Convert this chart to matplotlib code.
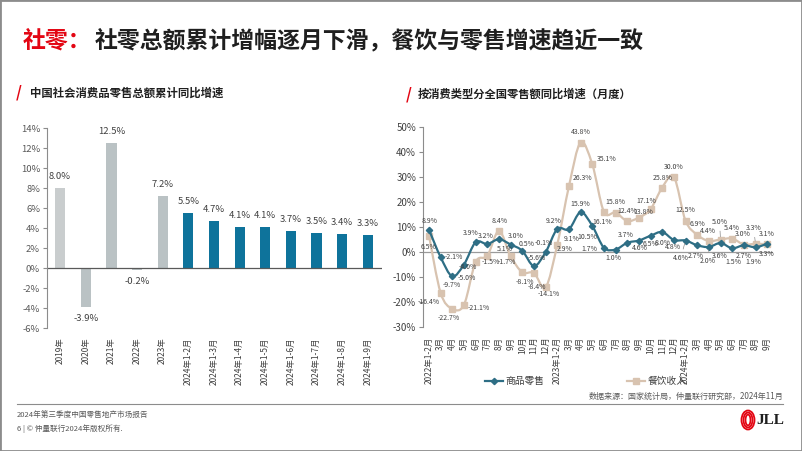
import matplotlib
matplotlib.use("Agg")
import matplotlib.pyplot as plt
from matplotlib.path import Path
from matplotlib.patches import PathPatch, Rectangle, Ellipse
from matplotlib.lines import Line2D

plt.rcParams['font.family'] = ['Noto Sans CJK SC', 'DejaVu Sans']

# ---- data: left chart (cumulative YoY growth of total retail sales) ----
annual_labels = ['2019年', '2020年', '2021年', '2022年', '2023年',
                 '2024年1-2月', '2024年1-3月', '2024年1-4月', '2024年1-5月',
                 '2024年1-6月', '2024年1-7月', '2024年1-8月', '2024年1-9月']
annual_values = [8.0, -3.9, 12.5, -0.2, 7.2, 5.5, 4.7, 4.1, 4.1, 3.7, 3.5, 3.4, 3.3]

# ---- data: right chart (monthly YoY by consumption type) ----
month_labels = ['2022年1-2月', '3月', '4月', '5月', '6月', '7月', '8月', '9月', '10月', '11月', '12月',
                '2023年1-2月', '3月', '4月', '5月', '6月', '7月', '8月', '9月', '10月', '11月', '12月',
                '2024年1-2月', '3月', '4月', '5月', '6月', '7月', '8月', '9月']
goods = [8.9, -2.1, -9.7, -5.0, 3.9, 3.2, 5.1, 3.0, 0.5, -5.6, -0.1,
         9.2, 9.1, 15.9, 10.5, 1.7, 1.0, 3.7, 4.6, 6.5, 8.0, 4.8,
         4.6, 2.7, 2.0, 3.6, 1.5, 2.7, 1.9, 3.3]
catering = [6.5, -16.4, -22.7, -21.1, -4.0, -1.5, 8.4, -1.7, -8.1, -8.4, -14.1,
            2.9, 26.3, 43.8, 35.1, 16.1, 15.8, 12.4, 13.8, 17.1, 25.8, 30.0,
            12.5, 6.9, 4.4, 5.0, 5.4, 3.0, 3.3, 3.1]

# label placement (pixel offsets from each point)
goods_off = [(1, 9), (13, 0), (-1, -9), (3, -13), (-5, 9), (-2, 8), (6, -10), (5, 9),
             (4, 7), (3, 8), (-2, 9), (-4, 8), (3, -10), (0, 8), (-5, -11), (-15, -1),
             (-2, -8), (-1, 8), (1, -7), (0, -8), (0, -11), (-1, -7), (-5, -18), (-1, -11),
             (-1, -14), (-1, -13), (1, -14), (0, -11), (-2, -15), (0, -10)]
catering_off = [(0, -11), (-12, -9), (-4, -9), (15, -3), (-8, -5), (4, -6), (1, 10), (-4, -6),
                (3, -10), (3, -14), (3, -7), (7, -4), (14, 8), (0, 10), (14, 5), (-2, -10),
                (0, 10), (0, 10), (4, 6), (-4, 8), (0, 10), (0, 10), (0, 11), (0, 11),
                (-1, 10), (-1, 18), (0, 10), (-1, 10), (-2, 16), (0, 10)]
leader_goods = [22, 24]
leader_catering = [25, 28]

RED = '#E30613'
BLUE_BAR = '#0E739B'
GRAY_BAR = '#BAC2C4'
GRAY_BAR_LIGHT = '#C9CDCE'
BLUE_LINE = '#2E6E85'
TAN = '#D8C3B0'
TXT = '#404040'
AX = '#8C8C8C'

fig = plt.figure(figsize=(8.02, 4.51), dpi=100)

# title
fig.text(23 / 802, 1 - 41 / 451, '社零：', color=RED, fontsize=16.5, fontweight='bold', va='center')
fig.text(95 / 802, 1 - 41 / 451, '社零总额累计增幅逐月下滑，餐饮与零售增速趋近一致',
         color='#1F1F1F', fontsize=16.5, fontweight='bold', va='center')

# section headers
fig.text(16 / 802, 1 - 93 / 451, '/', color=RED, fontsize=11, fontweight='bold', va='center')
fig.text(30 / 802, 1 - 93 / 451, '中国社会消费品零售总额累计同比增速', color='#1F1F1F',
         fontsize=8.2, fontweight='bold', va='center')
fig.text(406 / 802, 1 - 94 / 451, '/', color=RED, fontsize=11, fontweight='bold', va='center')
fig.text(418 / 802, 1 - 94 / 451, '按消费类型分全国零售额同比增速（月度）', color='#1F1F1F',
         fontsize=8.1, fontweight='bold', va='center')

# ---- left chart ----
ax1 = fig.add_axes([47 / 802, 1 - 328 / 451, 335 / 802, 200 / 451])
bar_colors = [GRAY_BAR_LIGHT] + [GRAY_BAR] * 4 + [BLUE_BAR] * 8
x1 = list(range(len(annual_values)))
ax1.bar(x1, annual_values, width=0.4, color=bar_colors)
for xi, v in zip(x1, annual_values):
    if v >= 0:
        ax1.annotate(f'{v:.1f}%', (xi, v), xytext=(0, 5), textcoords='offset points',
                     ha='center', va='bottom', fontsize=6.8, color=TXT)
    else:
        ax1.annotate(f'{v:.1f}%', (xi, v), xytext=(0, -5), textcoords='offset points',
                     ha='center', va='top', fontsize=6.8, color=TXT)
ax1.axhline(0, color='#595959', lw=0.9)
ax1.set_xlim(-0.51, 12.55)
ax1.set_ylim(-6, 14)
ax1.set_yticks(range(-6, 15, 2))
ax1.set_yticklabels([f'{t}%' for t in range(-6, 15, 2)])
ax1.set_xticks(x1)
ax1.set_xticklabels(annual_labels, rotation=90, fontsize=6)
for s in ['top', 'right', 'bottom']:
    ax1.spines[s].set_visible(False)
ax1.spines['left'].set_color(AX)
ax1.tick_params(axis='y', labelsize=6.8, colors='#595959', length=3, color=AX, pad=2)
ax1.tick_params(axis='x', length=0, pad=7, colors='#404040')

# ---- right chart ----
ax2 = fig.add_axes([423 / 802, 1 - 327 / 451, 350 / 802, 200 / 451])
x2 = list(range(len(goods)))


def smooth_path(xs, ys):
    pts = list(zip(xs, ys))
    verts = [pts[0]]
    codes = [Path.MOVETO]
    n = len(pts)
    for i in range(n - 1):
        p0 = pts[i - 1] if i > 0 else pts[i]
        p1 = pts[i]
        p2 = pts[i + 1]
        p3 = pts[i + 2] if i + 2 < n else pts[i + 1]
        c1 = (p1[0] + (p2[0] - p0[0]) / 6, p1[1] + (p2[1] - p0[1]) / 6)
        c2 = (p2[0] - (p3[0] - p1[0]) / 6, p2[1] - (p3[1] - p1[1]) / 6)
        verts += [c1, c2, p2]
        codes += [Path.CURVE4] * 3
    return Path(verts, codes)


ax2.axhline(0, color='#9A9A9A', lw=0.9, zorder=1)
ax2.add_patch(PathPatch(smooth_path(x2, catering), facecolor='none', edgecolor=TAN, lw=1.6, zorder=2))
ax2.plot(x2, catering, linestyle='none', marker='s', markersize=4.5, color=TAN, zorder=3)
ax2.add_patch(PathPatch(smooth_path(x2, goods), facecolor='none', edgecolor=BLUE_LINE, lw=1.6, zorder=4))
ax2.plot(x2, goods, linestyle='none', marker='D', markersize=3.2, color=BLUE_LINE, zorder=5)

for i, v in enumerate(catering):
    dx, dy = catering_off[i]
    arrow = dict(arrowstyle='-', color='#8C8C8C', lw=0.5) if i in leader_catering else None
    ax2.annotate(f'{v:.1f}%', (i, v), xytext=(dx, dy), textcoords='offset pixels',
                 ha='center', va='center', fontsize=5, color=TXT, zorder=6, arrowprops=arrow)
for i, v in enumerate(goods):
    dx, dy = goods_off[i]
    arrow = dict(arrowstyle='-', color='#8C8C8C', lw=0.5) if i in leader_goods else None
    ax2.annotate(f'{v:.1f}%', (i, v), xytext=(dx, dy), textcoords='offset pixels',
                 ha='center', va='center', fontsize=5, color=TXT, zorder=6, arrowprops=arrow)

ax2.set_xlim(-0.515, 29.5)
ax2.set_ylim(-30, 50)
ax2.set_yticks(range(-30, 51, 10))
ax2.set_yticklabels([f'{t}%' for t in range(-30, 51, 10)])
ax2.set_xticks(x2)
ax2.set_xticklabels(month_labels, rotation=90, fontsize=6)
for s in ['top', 'right', 'bottom']:
    ax2.spines[s].set_visible(False)
ax2.spines['left'].set_color(AX)
ax2.tick_params(axis='y', labelsize=7, colors='#404040', length=3, color=AX, pad=2)
ax2.tick_params(axis='x', length=0, pad=7, colors='#404040')

handles = [Line2D([], [], color=BLUE_LINE, lw=1.6, marker='D', markersize=3.2),
           Line2D([], [], color=TAN, lw=1.6, marker='s', markersize=4.5)]
fig.legend(handles, ['商品零售', '餐饮收入'], loc='center', bbox_to_anchor=(586 / 802, 1 - 381 / 451),
           ncol=2, frameon=False, fontsize=7, handlelength=1.8, columnspacing=8.5,
           labelcolor='#404040', handletextpad=0.3)

# source + footer
fig.text(783 / 802, 1 - 396 / 451, '数据来源：国家统计局，仲量联行研究部，2024年11月',
         ha='right', va='center', fontsize=5.8, color='#595959')
fig.add_artist(Line2D([17 / 802, 783 / 802], [1 - 404 / 451] * 2, color='#8C8C8C', lw=0.8))
fig.text(17 / 802, 1 - 415 / 451, '2024年第三季度中国零售地产市场报告', fontsize=5.5,
         color='#595959', va='center')
fig.text(17 / 802, 1 - 429 / 451, '6 | © 仲量联行2024年版权所有.', fontsize=5.5,
         color='#595959', va='center')

# JLL logo
for w in [13, 9, 5]:
    fig.add_artist(Ellipse((748 / 802, 1 - 420 / 451), w / 802, (w + 6) / 451,
                           transform=fig.transFigure, fill=False, edgecolor=RED, lw=1.3))
fig.text(756 / 802, 1 - 420 / 451, 'JLL', fontsize=11, fontweight='bold', family='Liberation Serif',
         color='#1F1F1F', va='center')

# page frame
fig.add_artist(Rectangle((0, 0), 1, 1, transform=fig.transFigure, fill=False,
                         edgecolor='#8C8C8C', lw=2))

fig.savefig('out.png', dpi=100)
